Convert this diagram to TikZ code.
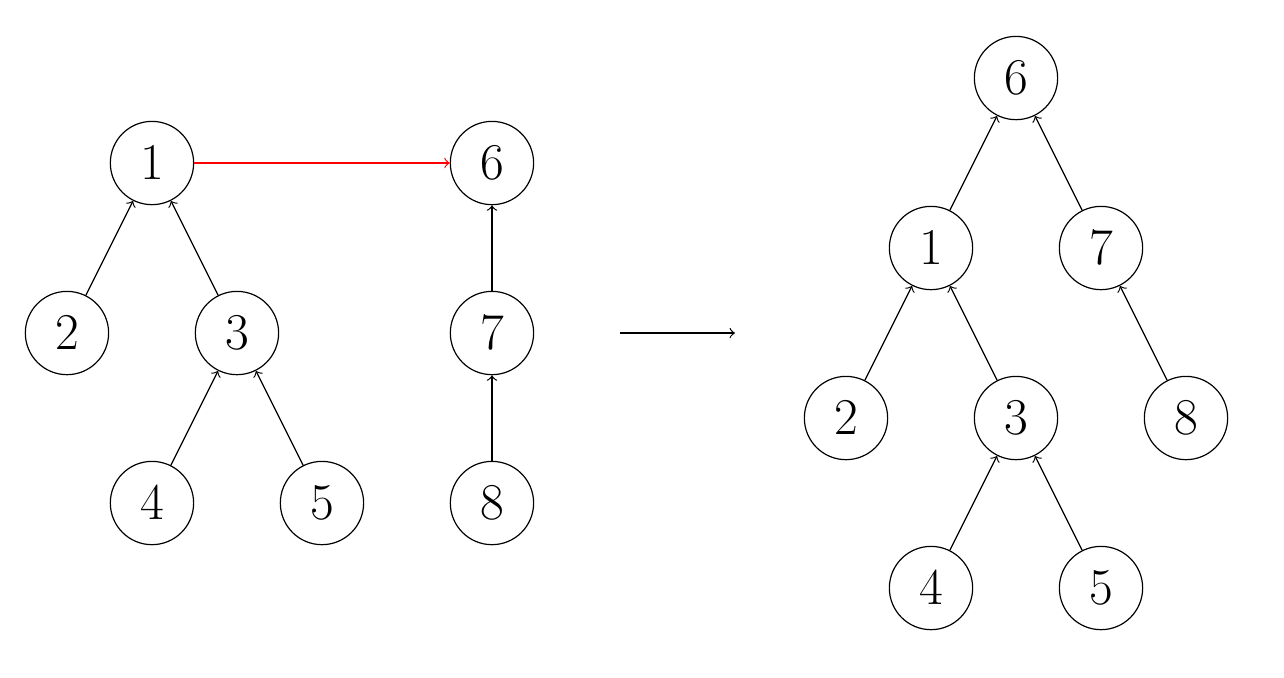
\documentclass[tikz,border=0pt]{standalone}
\usepackage{amsmath}
\usepackage{tikz}

\begin{document}
\begin{tikzpicture}[vertex/.style={draw, circle, minimum size=0.98cm, inner sep=0pt, font=\LARGE}]
    \useasboundingbox (-0.788,-2.047) rectangle (14.318,5.918);
    % before
    \node[vertex] (l1) at (1,4) {$1$};
    \node[vertex] (l2) at (0,2) {$2$};
    \node[vertex] (l3) at (2,2) {$3$};
    \node[vertex] (l4) at (1,0) {$4$};
    \node[vertex] (l5) at (3,0) {$5$};
    \node[vertex] (l6) at (5,4) {$6$};
    \node[vertex] (l7) at (5,2) {$7$};
    \node[vertex] (l8) at (5,0) {$8$};
    \draw[->] (l2) -- (l1);
    \draw[->] (l3) -- (l1);
    \draw[->] (l4) -- (l3);
    \draw[->] (l5) -- (l3);
    \draw[->] (l7) -- (l6);
    \draw[->] (l8) -- (l7);
    \draw[->, red] (l1) -- (l6);
    % union
    \coordinate (a) at (6.506,2);
    \coordinate (b) at (7.859,2);
    \draw[->] (a) -- (b);
    % after
    \node[vertex] (r6) at (11.165,5) {$6$};
    \node[vertex] (r1) at (10.165,3) {$1$};
    \node[vertex] (r7) at (12.165,3) {$7$};
    \node[vertex] (r2) at (9.165,1) {$2$};
    \node[vertex] (r3) at (11.165,1) {$3$};
    \node[vertex] (r8) at (13.165,1) {$8$};
    \node[vertex] (r4) at (10.165,-1) {$4$};
    \node[vertex] (r5) at (12.165,-1) {$5$};
    \draw[->] (r1) -- (r6);
    \draw[->] (r7) -- (r6);
    \draw[->] (r2) -- (r1);
    \draw[->] (r3) -- (r1);
    \draw[->] (r8) -- (r7);
    \draw[->] (r4) -- (r3);
    \draw[->] (r5) -- (r3);
\end{tikzpicture}
\end{document}
